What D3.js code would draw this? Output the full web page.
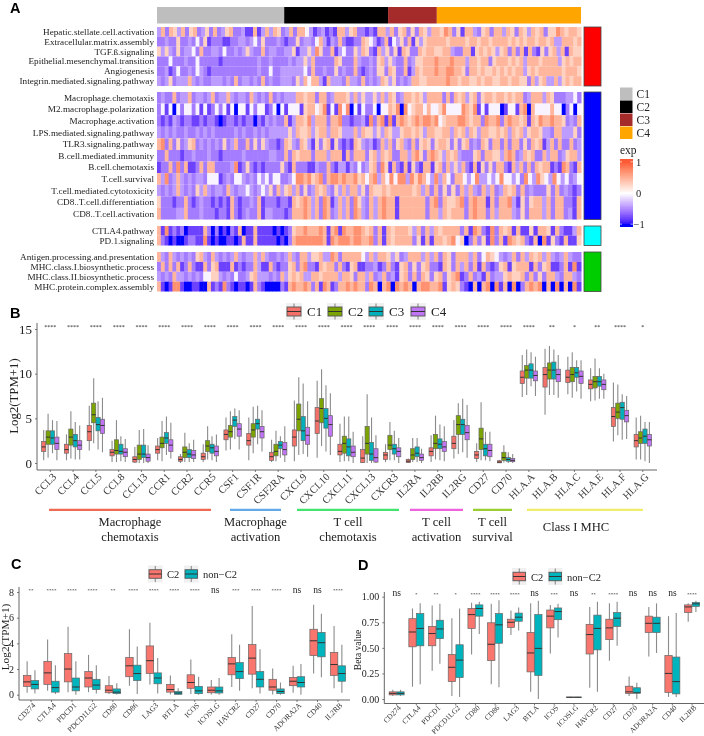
<!DOCTYPE html>
<html><head><meta charset="utf-8">
<script src="https://cdn.jsdelivr.net/npm/d3@7/dist/d3.min.js"></script>
<style>html,body{margin:0;padding:0;background:#fff}svg{display:block;filter:blur(.32px)}text{font-family:"Liberation Serif",serif;fill:#222}</style>
</head><body><svg id="c" width="704" height="736"></svg>
<script>
// ---------- Panel A data ----------
const clusterNames=["C1","C2","C3","C4"];
const clusterSizes=[60,49,23,68];
const clusterColors=["#BEBEBE","#000000","#A52A2A","#FFA500"];
const blockColors=["#FF0000","#0000FF","#00FFFF","#00CD00"];
const rowLabels=[
["Hepatic.stellate.cell.activation","Extracellular.matrix.assembly","TGF.ß.signaling","Epithelial.mesenchymal.transition","Angiogenesis","Integrin.mediated.signaling.pathway"],
["Macrophage.chemotaxis","M2.macrophage.polarization","Macrophage.activation","LPS.mediated.signaling.pathway","TLR3.signaling.pathway","B.cell.mediated.immunity","B.cell.chemotaxis","T.cell.survival","T.cell.mediated.cytotoxicity","CD8..T.cell.differentiation","CD8..T.cell.activation"],
["CTLA4.pathway","PD.1.signaling"],
["Antigen.processing.and.presentation","MHC.class.I.biosynthetic.process","MHC.class.II.biosynthetic.process","MHC.protein.complex.assembly"]];
// digit levels per heat cell: 1 = -1 ... 5 = 0 ... 9 = +1; [left half, right half]
const heatLevels=[1,2,3,4,5,6,7,8,9];
const heatValues=[-1,-0.8,-0.56,-0.42,-0.05,0.3,0.47,0.7,1];
const heatRows=[
[["47376473673463734673342272474763473775423423277467332","327747367363764776873627743673774763764767366876776"],
 ["3343363343536233322334434536333432336344357424373223376","5423725463726467777767777677677677776767677677674477767"],
 ["6464363445373344353343464337344334462446486337245336476","3274636276337677667743377267676467373727326367472766"],
 ["3335333433533333233333333343343333434464733333763337433","4367464337346677787778777477677367776767477767777467677"],
 ["3342353343543233333333333343353344444453733433634337323","4366376337247677787788776377676676767677467677777767776"],
 ["4346344474343344434373443437343344436475774274443744373","4347646343477667777787767766767766776776637467447467677"]],
[["3433734473443473447434437434373434447767737734777647464","4647476347767647777373767467367767767677347774763334453"],
 ["3525153553525235352515525355235152555267756825285815253","3515576818567757556855558768252555125527817555575513515"],
 ["3232432332232332123323233132434337247768477737783323342","8378282787678788785677788767738778378776727687787763437"],
 ["4343433433434343333343433434344444647667467747764447476","6464764467767647766774767476477667674767467764437744463"],
 ["7837363467343434363473373636433237643764263672632327643","4237473674373676367763636734376377373773637672473733734"],
 ["3373332334333433233333433333344337376777377747772737773","6747673377478637876476743336737766478734767337477346774"],
 ["2337383722373773333482363232333363273332243373244243534","6738627327263277267374647327263637732747373767723287327"],
 ["7483474343443555234355434354535533458878678378878778675","7847585884868754847537754584454585545385486548545345"],
 ["4343474343647434437434454345463746747363476743647477463","7667677777674737363637474374734767373433363734323"],
 ["6333233732343323232732334372333233276787473872474738643","7478772777777378376678378772737784263677473773327"],
 ["7333344733343332332732343372443332377787473873474738743","7478772777777377476777378773747774363777473773427"]],
[["7282323122227313121327122722221212367787778727828778876","7372767776473747677773728732837672722627762732247"],
 ["7321211233228212112212722722222121378888888728788878877","8372767777362727767856137362837287673271826327226"]],
[["7437434343674374343474344747433434743774667448737777754","7477646347774747376377747357654347374767474347433"],
 ["3737372373227367222723233742273233673783327677373267223","3423732673636733276374737273236726777273672237282"],
 ["4343744343435566434353346744434374676744776777747763774","7347342673737636736782373427344676673736377437743"],
 ["7212882112211723283212212732111132787787372872377878773","8717818787178877826763217178182718137878171817182"]]];
const heatTicks=[1,0,-1];

// ---------- Panel B data : [upper whisker, q3, median, q1, lower whisker] ----------
const bCats=["CCL3","CCL4","CCL5","CCL8","CCL13","CCR1","CCR2","CCR5","CSF1","CSF1R","CSF2RA","CXCL9","CXCL10","CXCL11","CXCL13","CXCR3","IL2RA","IL2RB","IL2RG","CD27","CD70","HLA.A","HLA.B","HLA.C","HLA.E","HLA.F","HLA.G"];
const bSig=["****","****","****","****","****","****","****","****","****","****","****","****","****","****","****","****","****","****","****","****","****","****","**","*","**","****","*"];
const bGroups=["C1","C2","C3","C4"];
const bColors=["#F4716A","#7CA400","#00B0BA","#C076F4"];
const bC1=[[3.7,2.4,1.8,1.3,.3],[3.2,2.1,1.5,1.1,.3],[6.4,4.2,3.5,2.5,1.4],[2.5,1.5,1.2,.8,.1],[1.8,.7,.4,.1,0],[2.8,1.9,1.5,1.1,.3],[1,.7,.4,.2,0],[2.1,1.1,.7,.4,.1],[5.1,3.7,3.2,2.6,1.4],[5.1,3.3,2.5,2,.3],[2.6,1.2,.7,.3,.1],[7,3.7,2.9,1.9,.2],[9.2,6.2,4.7,3.3,.6],[4.4,2.1,1.3,.9,.1],[3,1.5,.55,.05,0],[2.1,1.2,.9,.4,.1],[.5,.4,.2,.05,0],[3.1,1.7,1.3,.8,.1],[4.8,3,2.2,1.6,.5],[2.2,1.3,.9,.5,.1],[.35,.25,.1,.02,0],[12.1,10.3,9.6,8.9,7.4],[12.8,10.7,9.9,8.5,5.4],[11.9,10.4,9.6,9,7.7],[10.6,9.3,8.8,8.3,6.9],[9,6.2,5.2,4.1,2.4],[5.1,3.2,2.5,1.8,.4]];
const bC2=[[5.5,3.6,2.9,2.1,.6],[5.8,3.8,2.9,2,.5],[9.5,6.7,5.4,4.5,2.2],[4.8,2.6,1.4,1,.1],[3.7,2,1,.4,0],[4.7,2.9,2.2,1.7,.2],[3.4,1.8,1.2,.6,.1],[4.1,2.5,1.9,1.3,.4],[5.8,4.2,3.5,2.9,1.5],[6.3,4.4,3.7,2.9,1.1],[3.6,2.1,1.3,.8,.2],[9.6,6.6,4.9,3.6,.9],[10.5,7.2,6.1,4.5,1.9],[5.2,3,2.2,1.1,.2],[7.7,4.1,2.2,1,0],[4.6,3.1,2,1.5,.3],[2.8,1.6,.9,.4,.1],[5.3,3.2,2.2,1.6,.4],[6.7,5.3,4.3,3.2,1],[6.8,3.9,2.7,1.5,.3],[2,1.2,.6,.3,.05],[12.7,10.9,10.4,9.5,7.6],[13.1,11.2,10.4,9.4,7.6],[12.4,10.7,9.9,9.1,7.3],[11.7,9.7,9.1,8.4,7],[8.8,6.7,5.7,5,3.1],[5.3,3.5,2.8,2.2,.4]];
const bC3=[[4.8,3.6,2.8,2.1,1.1],[4.6,3.2,2.5,1.8,.4],[6.9,5.1,4.3,3.6,1.5],[3,2.1,1.3,1,.2],[3.8,2,1,.6,0],[5.2,3.4,2.8,2.2,.9],[2.2,1.5,1,.6,.1],[3,2.1,1.7,1.1,.3],[6.1,5.2,4.8,4.1,2.7],[6.4,4.9,4.4,3.8,2.1],[3,2.4,2,1.6,.6],[8.9,5.2,3.6,2.5,1],[8.7,6.1,5,3.9,1.3],[5.2,2.7,1.8,.8,.2],[5.1,2.3,1,.3,0],[3.6,2.1,1.6,1,.3],[2.8,1.8,1.1,.7,.1],[4.3,2.7,2.1,1.6,.3],[7.2,4.9,4.3,3.2,1.2],[3.5,2.1,1.6,.8,.3],[1.2,.6,.4,.2,0],[12.4,11.1,10.4,9.5,8.6],[12.7,11.3,10.4,9.4,7.6],[11.5,10.7,10.1,9.6,8],[10.6,9.7,9.1,8.6,7.2],[7.7,6.8,6.2,4.9,2.6],[4.6,3.8,3,2.2,.2]];
const bC4=[[4.7,2.9,2.2,1.5,.3],[4.2,2.5,2,1.5,.4],[7.3,4.9,4.2,3.3,1.2],[2.7,1.6,1.2,.7,.1],[2,1,.6,.2,0],[4.5,2.6,2,1.3,.5],[2.6,1.4,.9,.5,.1],[3.2,1.9,1.3,.8,.1],[5.9,4.4,3.8,3,1.5],[5.9,4.1,3.5,2.8,1.3],[4.1,2.3,1.5,.9,.1],[6.9,4,3.1,2.1,.7],[7.8,5.3,4.3,3,.9],[3.5,1.9,1.2,.7,0],[3.1,1.6,.6,.1,0],[2.8,1.7,1.3,.7,0],[1.6,1,.6,.3,0],[4.1,2.4,1.8,1.3,.2],[6.5,4.2,3.4,2.6,.6],[3.5,2.1,1.4,.7,.2],[1,.5,.3,.15,0],[11.9,10.3,9.8,9.2,7.5],[12.1,10.5,9.9,9.1,7.3],[11.5,10.3,9.7,8.9,7.2],[10,9.3,8.8,8.2,7.2],[7.5,5.9,5.3,4.6,2.7],[4.6,3.2,2.6,1.9,0]];
const bTicks=[0,5,10,15];
const funcGroups=[
 {lines:["Macrophage","chemotaxis"],from:0,to:7,color:"#EE6A50",ends:[49,211]},
 {lines:["Macrophage","activation"],from:8,to:10,color:"#63A9E8",ends:[230,281]},
 {lines:["T cell","chemotaxis"],from:11,to:15,color:"#43E36E",ends:[297,399]},
 {lines:["T cell","activation"],from:16,to:18,color:"#EE62DE",ends:[410,463]},
 {lines:["T cell","survival"],from:19,to:20,color:"#9ACD32",ends:[473,512]},
 {lines:["Class I MHC"],from:21,to:26,color:"#EEEE6A",ends:[527,643]}];

// ---------- Panel C data ----------
const ckpCats=["CD274","CTLA4","PDCD1","PDCD1LG2","CD80","CD86","LAG3","BTLA","ICOS","ICOSLG","HAVCR2","CD27","CD70","ADORA2A","CD40","IL2RB"];
const cdGroups=["C2","non−C2"];
const cdColors=["#F8766D","#00B4BE"];
const cSig=["**","****","****","****","**","****","****","****","****","ns","***","****","****","ns","ns","****"];
const cC2=[[2.6,1.5,1,.65,.15],[4.3,2.6,1.7,.8,.3],[5.3,3.2,2,1,.2],[3.1,1.8,1.3,.6,.2],[1.45,.7,.35,.15,.05],[5.1,2.9,2.25,1.4,.7],[5.6,3.8,2.65,1.65,.8],[1.5,.8,.4,.2,.02],[2.75,1.55,.95,.5,.05],[1.15,.6,.35,.15,.02],[4.7,2.9,2.4,1.55,.6],[6.9,3.9,2.85,1.6,.5],[2.05,1.2,.6,.35,.02],[2.25,1.35,1.05,.7,.15],[7,5.1,4.2,3.05,1.65],[5.35,3.3,2.35,1.5,.5]];
const cNon=[[1.9,1.1,.8,.45,.1],[2.3,1.05,.55,.2,.05],[2.6,1.3,.6,.3,0],[2.3,1.2,.75,.4,.1],[.9,.45,.2,.08,.02],[3.75,2.3,1.65,1.1,.05],[2.85,1.7,1.3,.85,.1],[.5,.25,.13,.03,0],[1.4,.65,.3,.08,0],[1.3,.6,.3,.13,0],[3.9,2.5,1.8,1.25,.3],[3.55,1.8,1.2,.6,.1],[.95,.45,.25,.08,0],[2.4,1.4,.95,.6,0],[6.3,4.85,4.05,2.95,1.35],[3.9,2.25,1.65,1.05,.15]];
const cTicks=[0,2,4,6,8];

// ---------- Panel D data ----------
const dSig=["ns","*","**","*","****","****","****","ns","***","ns","**","****","ns","ns","ns","****"];
const dC2=[[.09,.07,.055,.04,.03],[.885,.785,.655,.51,.12],[.915,.71,.64,.52,.275],[.79,.435,.31,.17,.03],[.94,.885,.825,.69,.435],[.93,.745,.535,.375,.145],[.865,.78,.75,.7,.625],[.935,.65,.45,.265,.07],[.92,.87,.81,.695,.445],[.022,.019,.017,.015,.013],[.9,.73,.63,.44,.11],[.935,.78,.695,.58,.375],[.22,.125,.07,.055,.03],[.9,.81,.74,.65,.415],[.81,.425,.25,.065,.02],[.935,.92,.9,.845,.755]];
const dNon=[[.09,.07,.055,.04,.03],[.935,.835,.69,.52,.145],[.93,.77,.685,.59,.345],[.885,.53,.38,.21,.02],[.95,.92,.885,.81,.635],[.965,.835,.725,.545,.115],[.895,.84,.8,.76,.67],[.96,.825,.495,.23,0],[.93,.89,.855,.775,.6],[.022,.019,.017,.015,.013],[.95,.82,.69,.48,.07],[.95,.845,.79,.71,.52],[.16,.11,.06,.058,0],[.935,.8,.74,.65,.45],[.84,.41,.17,.05,.02],[.96,.945,.93,.905,.85]];
const dTicks=[0,.25,.5,.75,1];

// ---------- Drawing ----------
const svg=d3.select("#c");
const defs=svg.append("defs");
defs.append("filter").attr("id","soft").attr("x","-2%").attr("width","104%").append("feGaussianBlur").attr("stdDeviation","0.4 0.2");
const letter=(t,x,y)=>svg.append("text").attr("x",x).attr("y",y).text(t).style("font-family","'Liberation Sans',sans-serif").style("font-weight","700").style("font-size","14.5px").style("fill","#000");
letter("A",10,13);letter("B",10,318);letter("C",11,569);letter("D",358,570);

// Panel A
const hx0=157,hx1=581,hxm=369;
const blockY=[[27,86],[92,219.5],[226,245.5],[252,291.5]];
const sideX=d3.scaleLinear().domain([0,1]).range([584,601]);
const colour=d3.scaleLinear().domain([-1,0,1]).range(["#0000FF","#FFFFFF","#FF5A36"]).interpolate(d3.interpolateLab);
const level=d3.scaleOrdinal().domain(heatLevels).range(heatValues);
const A=svg.append("g");
const total=d3.sum(clusterSizes);
const annX=d3.scaleLinear().domain([0,total]).range([hx0,hx1]);
let acc=0;
clusterSizes.forEach((n,i)=>{A.append("rect").attr("x",annX(acc)).attr("y",7).attr("width",annX(acc+n)-annX(acc)).attr("height",16.5).attr("fill",clusterColors[i]);acc+=n;});
heatRows.forEach((rows,b)=>{
 const ry=d3.scaleBand().domain(d3.range(rows.length)).range(blockY[b]);
 rows.forEach((row,r)=>{
  const g=A.append("g").attr("filter","url(#soft)");
  row.forEach((s,h)=>{
    const cells=s.split("").map(Number);
    const bx=d3.scaleBand().domain(d3.range(cells.length)).range(h===0?[hx0,hxm]:[hxm,hx1]);
    g.selectAll(null).data(cells).join("rect").attr("x",(d,i)=>bx(i)).attr("y",ry(r)).attr("width",bx.bandwidth()+.5).attr("height",ry.bandwidth()).attr("fill",d=>colour(level(d)));
  });
  A.append("text").attr("x",154).attr("y",ry(r)+ry.bandwidth()/2+3).attr("text-anchor","end").style("font-size","9.2px").text(rowLabels[b][r]);
 });
 A.append("rect").attr("x",sideX(0)).attr("y",blockY[b][0]).attr("width",sideX(1)-sideX(0)).attr("height",blockY[b][1]-blockY[b][0]).attr("fill",blockColors[b]).attr("stroke","#444").attr("stroke-width",.8);
});
const legY=d3.scaleBand().domain(clusterNames).range([87.5,139.5]);
clusterNames.forEach((n,i)=>{
 A.append("rect").attr("x",620).attr("y",legY(n)).attr("width",12.5).attr("height",legY.bandwidth()-.5).attr("fill",clusterColors[i]);
 A.append("text").attr("x",636.5).attr("y",legY(n)+10.5).style("font-size","11.5px").text(n);
});
A.append("text").attr("x",620).attr("y",154).style("font-size","11.5px").text("exp");
const cbY=d3.scaleLinear().domain([1.06,-1.06]).range([160,226]);
const cbStops=d3.range(-1.06,1.07,.02);
A.append("g").attr("shape-rendering","crispEdges").selectAll("rect").data(cbStops).join("rect").attr("x",619.5).attr("width",13.5).attr("y",d=>cbY(d)-.7).attr("height",1.4).attr("fill",d=>colour(Math.max(-1,Math.min(1,d))));
heatTicks.forEach(t=>{
 A.append("line").attr("x1",619.5).attr("x2",622).attr("y1",cbY(t)).attr("y2",cbY(t)).attr("stroke","#fff").attr("stroke-width",.7);
 A.append("line").attr("x1",630.5).attr("x2",633).attr("y1",cbY(t)).attr("y2",cbY(t)).attr("stroke","#fff").attr("stroke-width",.7);
 A.append("text").attr("x",t<0?633.5:636).attr("y",cbY(t)+3.7).style("font-size","10.5px").text(t<0?"−1":t);
});

function boxes(g,x,y,off,w,series,color,strokeW){
 const s=g.append("g");
 s.selectAll("line.w").data(series).join("line").attr("x1",(d,i)=>x(i)+off).attr("x2",(d,i)=>x(i)+off).attr("y1",d=>y(d[0])).attr("y2",d=>y(d[4])).attr("stroke","#777").attr("stroke-width",strokeW).attr("stroke-opacity",.85);
 s.selectAll("rect").data(series).join("rect").attr("x",(d,i)=>x(i)+off-w/2).attr("width",w).attr("y",d=>y(d[1])).attr("height",d=>Math.max(.4,y(d[3])-y(d[1]))).attr("fill",color).attr("stroke","#666").attr("stroke-width",.7);
 s.selectAll("line.m").data(series).join("line").attr("x1",(d,i)=>x(i)+off-w/2).attr("x2",(d,i)=>x(i)+off+w/2).attr("y1",d=>y(d[2])).attr("y2",d=>y(d[2])).attr("stroke","#333").attr("stroke-width",1);
}
function axes(g,x,y,cats,ticks,fmt,xl,xr,yTop,yBot,tickFont,catFont,catDx,catDy){
 const ax=g.append("g").attr("transform",`translate(0,${yBot})`).call(d3.axisBottom(d3.scaleBand().domain(cats).range(x.range())).tickSize(2).tickSizeOuter(0));
 ax.select(".domain").remove();
 ax.selectAll(".tick line").attr("stroke","#444").attr("stroke-width",.7);
 ax.selectAll("text").attr("transform",`translate(${catDx},${catDy}) rotate(-45)`).attr("x",0).attr("y",0).attr("dy",".35em").attr("text-anchor","end").style("font-size",catFont+"px").style("font-family","'Liberation Serif',serif").style("fill","#333");
 const ay=g.append("g").attr("transform",`translate(${xl},0)`).call(d3.axisLeft(y).tickValues(ticks).tickFormat(fmt).tickSize(2));
 ay.select(".domain").remove();
 ay.selectAll(".tick line").attr("stroke","#444").attr("stroke-width",.7);
 ay.selectAll("text").style("font-size",tickFont+"px").style("font-family","'Liberation Serif',serif").style("fill","#222");
 g.append("line").attr("x1",xl).attr("x2",xl).attr("y1",yTop).attr("y2",yBot).attr("stroke","#555").attr("stroke-width",.9);
 g.append("line").attr("x1",xl).attr("x2",xr).attr("y1",yBot).attr("y2",yBot).attr("stroke","#555").attr("stroke-width",.9);
}
function key(g,x,cy,w,h,color,label,tx,fs){
 g.append("rect").attr("x",x-1).attr("y",cy-8.5).attr("width",w+2).attr("height",17).attr("fill","#f0f0f0");
 g.append("line").attr("x1",x+w/2).attr("x2",x+w/2).attr("y1",cy-8).attr("y2",cy+8).attr("stroke","#666").attr("stroke-width",.8);
 g.append("rect").attr("x",x).attr("y",cy-h/2).attr("width",w).attr("height",h).attr("fill",color).attr("stroke","#555").attr("stroke-width",.9);
 g.append("line").attr("x1",x).attr("x2",x+w).attr("y1",cy).attr("y2",cy).attr("stroke","#333").attr("stroke-width",1);
 g.append("text").attr("x",tx).attr("y",cy+4).style("font-size",fs+"px").text(label);
}
function sig(g,labels,x,starBase,nsBase,starSize,nsSize){
 labels.forEach((t,i)=>{
  const ns=t==="ns";
  g.append("text").attr("x",x(i)).attr("y",ns?nsBase:starBase).attr("text-anchor","middle").style("font-size",(ns?nsSize:starSize)+"px").text(t);
 });
}

// Panel B
const B=svg.append("g");
const bx=d3.scaleLinear().domain([-.5,26.5]).range([38.9,654.2]);
const by=d3.scaleLinear().domain([0,15]).range([463,329]);
axes(B,bx,by,bCats,bTicks,d3.format("d"),37,657,323,470,13,10.5,4,5);
[bC1,bC2,bC3,bC4].forEach((s,i)=>boxes(B,bx,by,(i-1.5)*4.4,4.2,s,bColors[i],1.1));
sig(B,bSig,bx,328.5,328.5,6,9);
[[287,307],[328,348],[369,389],[411,431]].forEach((p,i)=>key(B,p[0],311.5,14,9,bColors[i],bGroups[i],p[1],13));
funcGroups.forEach(f=>{
 const [e0,e1]=f.ends;
 B.append("line").attr("x1",e0).attr("x2",e1).attr("y1",509.8).attr("y2",509.8).attr("stroke",f.color).attr("stroke-width",2.3);
 const cx=(e0+e1)/2;
 if(f.lines.length===2){
  B.append("text").attr("x",cx).attr("y",526).attr("text-anchor","middle").style("font-size","12.6px").text(f.lines[0]);
  B.append("text").attr("x",cx).attr("y",541).attr("text-anchor","middle").style("font-size","12.6px").text(f.lines[1]);
 } else B.append("text").attr("x",cx-9).attr("y",531).attr("text-anchor","middle").style("font-size","12.6px").text(f.lines[0]);
});
B.append("text").attr("transform","translate(17.5,396) rotate(-90)").attr("text-anchor","middle").style("font-size","12.8px").text("Log2(TPM+1)");

// Panel C
const C=svg.append("g");
const cx=d3.scaleLinear().domain([-.5,15.5]).range([20.8,348.2]);
const cy=d3.scaleLinear().domain([0,8]).range([694.7,592]);
axes(C,cx,cy,ckpCats,cTicks,d3.format("d"),19,350,587,700,10,7.6,3,4);
[cC2,cNon].forEach((s,i)=>boxes(C,cx,cy,(i-.5)*7.8,7.5,s,cdColors[i],1.1));
sig(C,cSig,cx,592,592.5,5,9.5);
key(C,149,574,12.5,8.5,cdColors[0],cdGroups[0],167,10.5);
key(C,185,574,12.5,8.5,cdColors[1],cdGroups[1],203,10.5);
C.append("text").attr("transform","translate(9,637) rotate(-90)").attr("text-anchor","middle").style("font-size","11.3px").text("Log2(TPM+1)");

// Panel D
const D=svg.append("g");
const dx=d3.scaleLinear().domain([-.5,15.5]).range([386.8,701.9]);
const dy=d3.scaleLinear().domain([0,1]).range([699,596.7]);
axes(D,dx,dy,ckpCats,dTicks,d3.format(".2f"),384.3,704,592,703.5,10,7.4,3,3);
[dC2,dNon].forEach((s,i)=>boxes(D,dx,dy,(i-.5)*7.7,7.3,s,cdColors[i],1.1));
sig(D,dSig,dx,596,596,5,9.5);
key(D,513,576.5,12.5,8.5,cdColors[0],cdGroups[0],531,10.5);
key(D,549,576.5,12.5,8.5,cdColors[1],cdGroups[1],567,10.5);
D.append("text").attr("transform","translate(361,650) rotate(-90)").attr("text-anchor","middle").style("font-size","9.5px").text("Beta value");
</script></body></html>
